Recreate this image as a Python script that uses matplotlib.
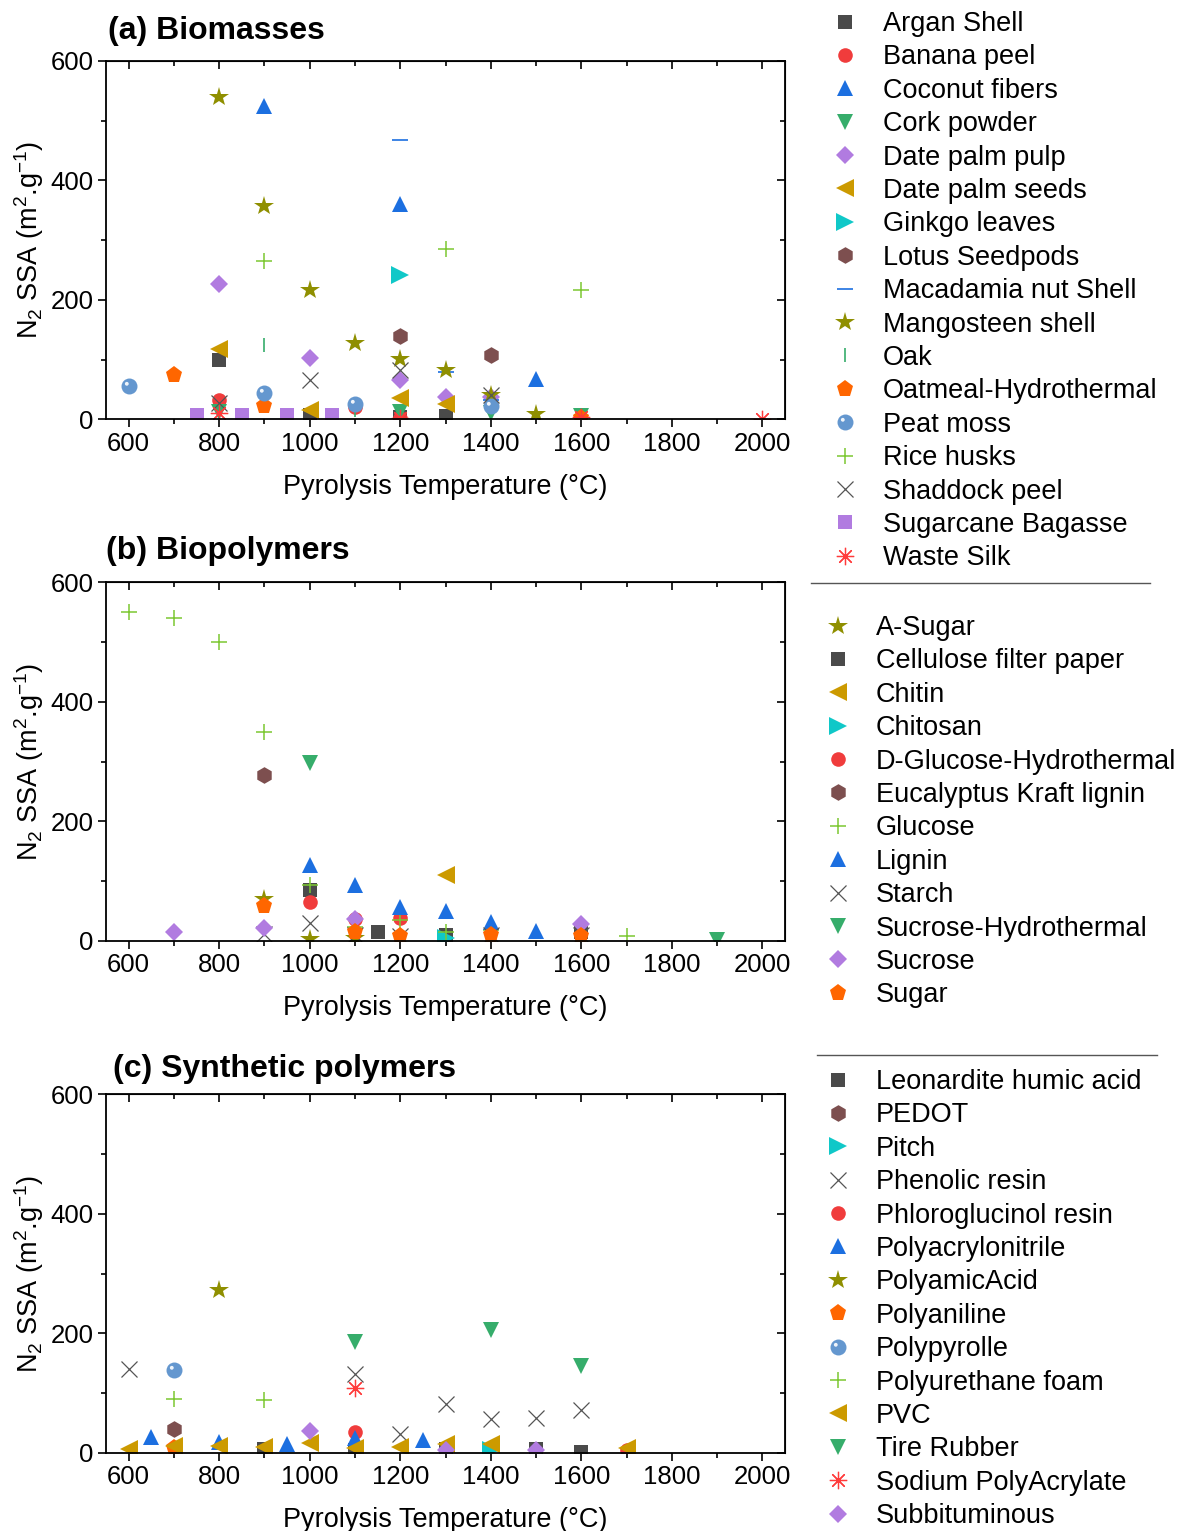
import matplotlib
matplotlib.use("Agg")
import matplotlib.pyplot as plt
from matplotlib.lines import Line2D
from matplotlib.path import Path
from matplotlib.ticker import MultipleLocator

plt.rcParams['font.family'] = ['Liberation Sans', 'DejaVu Sans']
plt.rcParams['mathtext.fontset'] = 'custom'
plt.rcParams['mathtext.rm'] = 'Liberation Sans'
plt.rcParams['mathtext.it'] = 'Liberation Sans:italic'
plt.rcParams['mathtext.bf'] = 'Liberation Sans:bold'

# ---------------- (a) biomasses ----------------
argan_T = [800, 1000, 1200, 1300]
argan_S = [100, 7, 4, 6]
banana_T = [800, 1100, 1200]
banana_S = [33, 20, 3]
coconut_T = [900, 1200, 1500]
coconut_S = [525, 360, 68]
cork_T = [800, 1200, 1400, 1600]
cork_S = [12, 12, 10, 5]
dpulp_T = [800, 1000, 1200, 1300, 1400]
dpulp_S = [226, 102, 65, 38, 38]
dseed_T = [800, 1000, 1200, 1300]
dseed_S = [117, 15, 35, 26]
ginkgo_T = [1200]
ginkgo_S = [242]
lotus_T = [1200, 1400]
lotus_S = [140, 108]
macad_T = [1200, 1300, 1400]
macad_S = [468, 80, 33]
mango_T = [800, 900, 1000, 1100, 1200, 1300, 1400, 1500]
mango_S = [540, 358, 217, 127, 101, 82, 40, 9]
oak_T = [900, 1100, 1400]
oak_S = [124, 15, 10]
oatmeal_T = [700, 900, 1600]
oatmeal_S = [74, 23, 3]
peat_T = [600, 900, 1100, 1400]
peat_S = [55, 44, 26, 22]
rice_T = [900, 1300, 1600]
rice_S = [265, 285, 217]
shaddock_T = [800, 1000, 1200, 1400]
shaddock_S = [28, 66, 82, 40]
bagasse_T = [750, 850, 950, 1050]
bagasse_S = [8, 8, 7, 7]
silk_T = [800, 1200, 1600, 2000]
silk_S = [10, 3, 4, 1]

# ---------------- (b) biopolymers ----------------
asugar_T = [900, 1000, 1100]
asugar_S = [70, 3, 5]
cellulose_T = [1000, 1150, 1300, 1600]
cellulose_S = [85, 14, 10, 15]
chitin_T = [1300]
chitin_S = [110]
chitosan_T = [1300]
chitosan_S = [5]
dglucose_T = [1000, 1100, 1200]
dglucose_S = [65, 36, 38]
kraft_T = [900]
kraft_S = [278]
glucose_T = [600, 700, 800, 900, 1000, 1100, 1200, 1300, 1400, 1700]
glucose_S = [550, 540, 500, 350, 93, 23, 35, 15, 18, 8]
lignin_T = [1000, 1100, 1200, 1300, 1400, 1500]
lignin_S = [127, 94, 56, 50, 31, 16]
starch_T = [900, 1000, 1100, 1200, 1400, 1600]
starch_S = [12, 30, 9, 8, 9, 10]
sucroseht_T = [1000, 1900]
sucroseht_S = [297, 1]
sucrose_T = [700, 900, 1100, 1600]
sucrose_S = [14, 21, 36, 28]
sugar_T = [900, 1100, 1200, 1400, 1600]
sugar_S = [58, 15, 8, 9, 8]

# ---------------- (c) synthetic polymers ----------------
leon_T = [900, 1100, 1300, 1500, 1600]
leon_S = [7, 5, 6, 7, 2]
pedot_T = [700]
pedot_S = [40]
pitch_T = [1400]
pitch_S = [5]
phenolic_T = [600, 1100, 1200, 1300, 1400, 1500, 1600]
phenolic_S = [140, 131, 31, 81, 56, 58, 71]
phloro_T = [1100, 1700]
phloro_S = [35, 4]
pan_T = [650, 800, 950, 1100, 1250]
pan_S = [27, 18, 14, 25, 22]
polyamic_T = [800]
polyamic_S = [273]
pani_T = [700]
pani_S = [8]
ppy_T = [700]
ppy_S = [139]
pu_T = [700, 900]
pu_S = [90, 88]
pvc_T = [600, 700, 800, 900, 1000, 1100, 1200, 1300, 1400, 1700]
pvc_S = [7, 12, 11, 9, 17, 8, 9, 14, 14, 8]
tire_T = [1100, 1400, 1600]
tire_S = [186, 206, 145]
spa_T = [1100]
spa_S = [109]
subbit_T = [1000, 1300, 1500]
subbit_S = [37, 5, 5]

# marker looks, shared by the three panels
DARK, RED, BLUE, GREEN = '#4a4a4a', '#f03c3c', '#1c6fe0', '#36ad6b'
PURPLE, GOLD, CYAN, BROWN = '#b17be0', '#cc9a00', '#10c8c8', '#7d4f4f'
OLIVE, LIME, GRAY, ORANGE = '#8f8f00', '#7cc832', '#555555', '#ff6600'
SKY, SILK = '#6497cf', '#ff3b3b'

STY = {
    'square': dict(marker='s', color=DARK, ms=10.5),
    'circle': dict(marker='o', color=RED, ms=10.5),
    'up': dict(marker='^', color=BLUE, ms=12),
    'down': dict(marker='v', color=GREEN, ms=12),
    'diamond': dict(marker='D', color=PURPLE, ms=9.5),
    'left': dict(marker='<', color=GOLD, ms=12.5),
    'right': dict(marker='>', color=CYAN, ms=12.5),
    'hex': dict(marker='h', color=BROWN, ms=12),
    'hline': dict(marker='_', color=BLUE, ms=11, mew=1.2),
    'star': dict(marker='*', color=OLIVE, ms=15),
    'vline': dict(marker='|', color=GREEN, ms=10, mew=1.2),
    'pent': dict(marker='p', color=ORANGE, ms=12.5),
    'plus': dict(marker='+', color=LIME, ms=11, mew=1.1),
    'cross': dict(marker='x', color=GRAY, ms=12, mew=0.9),
    'psquare': dict(marker='s', color=PURPLE, ms=10.5),
    'aster': dict(marker=(8, 2, 0), color=SILK, ms=12.5, mew=0.9),
}

# small offset highlight that turns a circle into a glossy ball
_glint = Path.make_compound_path(
    Path.circle((-0.17, 0.17), 0.12),
    Path([[0.5, 0.5], [-0.5, -0.5]], [Path.MOVETO, Path.MOVETO]))


def draw(ax, T, S, kind, label):
    if kind == 'sphere':
        base = ax.plot(T, S, ls='none', marker='o', ms=11.5, color=SKY,
                       mec=SKY, mew=0)[0]
        glint = ax.plot(T, S, ls='none', marker=_glint, ms=11.5,
                        color='white', mew=0, alpha=0.9)[0]
        return (base, glint), label
    st = dict(STY[kind])
    color = st.pop('color')
    filled = st['marker'] not in ('+', 'x', '|', '_') and not isinstance(st['marker'], tuple)
    if filled:
        h = ax.plot(T, S, ls='none', color=color, mec=color, mew=0, **st)[0]
    else:
        h = ax.plot(T, S, ls='none', color=color, **st)[0]
    return h, label


panel_a = [
    (argan_T, argan_S, 'square', 'Argan Shell'),
    (banana_T, banana_S, 'circle', 'Banana peel'),
    (coconut_T, coconut_S, 'up', 'Coconut fibers'),
    (cork_T, cork_S, 'down', 'Cork powder'),
    (dpulp_T, dpulp_S, 'diamond', 'Date palm pulp'),
    (dseed_T, dseed_S, 'left', 'Date palm seeds'),
    (ginkgo_T, ginkgo_S, 'right', 'Ginkgo leaves'),
    (lotus_T, lotus_S, 'hex', 'Lotus Seedpods'),
    (macad_T, macad_S, 'hline', 'Macadamia nut Shell'),
    (mango_T, mango_S, 'star', 'Mangosteen shell'),
    (oak_T, oak_S, 'vline', 'Oak'),
    (oatmeal_T, oatmeal_S, 'pent', 'Oatmeal-Hydrothermal'),
    (peat_T, peat_S, 'sphere', 'Peat moss'),
    (rice_T, rice_S, 'plus', 'Rice husks'),
    (shaddock_T, shaddock_S, 'cross', 'Shaddock peel'),
    (bagasse_T, bagasse_S, 'psquare', 'Sugarcane Bagasse'),
    (silk_T, silk_S, 'aster', 'Waste Silk'),
]

panel_b = [
    (asugar_T, asugar_S, 'star', 'A-Sugar'),
    (cellulose_T, cellulose_S, 'square', 'Cellulose filter paper'),
    (chitin_T, chitin_S, 'left', 'Chitin'),
    (chitosan_T, chitosan_S, 'right', 'Chitosan'),
    (dglucose_T, dglucose_S, 'circle', 'D-Glucose-Hydrothermal'),
    (kraft_T, kraft_S, 'hex', 'Eucalyptus Kraft lignin'),
    (glucose_T, glucose_S, 'plus', 'Glucose'),
    (lignin_T, lignin_S, 'up', 'Lignin'),
    (starch_T, starch_S, 'cross', 'Starch'),
    (sucroseht_T, sucroseht_S, 'down', 'Sucrose-Hydrothermal'),
    (sucrose_T, sucrose_S, 'diamond', 'Sucrose'),
    (sugar_T, sugar_S, 'pent', 'Sugar'),
]

panel_c = [
    (leon_T, leon_S, 'square', 'Leonardite humic acid'),
    (pedot_T, pedot_S, 'hex', 'PEDOT'),
    (pitch_T, pitch_S, 'right', 'Pitch'),
    (phenolic_T, phenolic_S, 'cross', 'Phenolic resin'),
    (phloro_T, phloro_S, 'circle', 'Phloroglucinol resin'),
    (pan_T, pan_S, 'up', 'Polyacrylonitrile'),
    (polyamic_T, polyamic_S, 'star', 'PolyamicAcid'),
    (pani_T, pani_S, 'pent', 'Polyaniline'),
    (ppy_T, ppy_S, 'sphere', 'Polypyrolle'),
    (pu_T, pu_S, 'plus', 'Polyurethane foam'),
    (pvc_T, pvc_S, 'left', 'PVC'),
    (tire_T, tire_S, 'down', 'Tire Rubber'),
    (spa_T, spa_S, 'aster', 'Sodium PolyAcrylate'),
    (subbit_T, subbit_S, 'diamond', 'Subbituminous'),
]

W, H = 1180, 1531
fig = plt.figure(figsize=(W / 100, H / 100), dpi=100)

FS_TICK = 18.5
FS_LAB = 19.5
FS_LEG = 19.5
FS_TITLE = 23


def px(x, y):
    return x / W, 1 - y / H


def setup(ax):
    ax.set_xlim(550, 2050)
    ax.set_ylim(0, 600)
    ax.xaxis.set_major_locator(MultipleLocator(200))
    ax.xaxis.set_minor_locator(MultipleLocator(100))
    ax.yaxis.set_major_locator(MultipleLocator(200))
    ax.yaxis.set_minor_locator(MultipleLocator(100))
    ax.tick_params(which='both', direction='out', labelsize=FS_TICK, width=1.2, pad=3)
    ax.tick_params(which='major', length=6)
    ax.tick_params(which='minor', length=3.5)
    for sp in ax.spines.values():
        sp.set_linewidth(1.3)
    top = ax.secondary_xaxis('top')
    top.xaxis.set_major_locator(MultipleLocator(200))
    top.xaxis.set_minor_locator(MultipleLocator(100))
    top.tick_params(which='both', direction='in', labeltop=False, width=1.2)
    top.tick_params(which='major', length=6)
    top.tick_params(which='minor', length=3.5)
    right = ax.secondary_yaxis('right')
    right.yaxis.set_major_locator(MultipleLocator(200))
    right.yaxis.set_minor_locator(MultipleLocator(100))
    right.tick_params(which='both', direction='in', labelright=False, width=1.2)
    right.tick_params(which='major', length=6)
    right.tick_params(which='minor', length=3.5)
    ax.set_xlabel('Pyrolysis Temperature (°C)', fontsize=FS_LAB, labelpad=13)
    ax.set_ylabel('N$_2$ SSA (m$^2$.g$^{-1}$)', fontsize=FS_LAB, labelpad=3)


panels = [
    (panel_a, 419.3, '(a) Biomasses', (108, 31), (833, 11)),
    (panel_b, 940.7, '(b) Biopolymers', (106, 551), (826, 615)),
    (panel_c, 1452.7, '(c) Synthetic polymers', (113, 1069), (826, 1069)),
]

for series, bottom_px, title, tpos, lpos in panels:
    ax = fig.add_axes([106 / W, 1 - bottom_px / H, 679 / W, 358.3 / H])
    setup(ax)
    handles, labels = [], []
    for T, S, kind, name in series:
        h, lab = draw(ax, T, S, kind, name)
        handles.append(h)
        labels.append(lab)
    fig.text(*px(*tpos), title, fontsize=FS_TITLE, fontweight='bold', va='center', ha='left')
    fig.legend(handles, labels, loc='upper left', bbox_to_anchor=px(*lpos),
               frameon=False, fontsize=FS_LEG, handlelength=0.9, handletextpad=0.95,
               labelspacing=0.273, borderpad=0, borderaxespad=0, markerscale=1.0)

# thin rules between the legend blocks
fig.add_artist(Line2D([811 / W, 1150 / W], [1 - 583 / H] * 2, color='#555555', lw=1.0))
fig.add_artist(Line2D([817 / W, 1157 / W], [1 - 1055 / H] * 2, color='#555555', lw=1.0))

fig.savefig('out.png', dpi=100)
